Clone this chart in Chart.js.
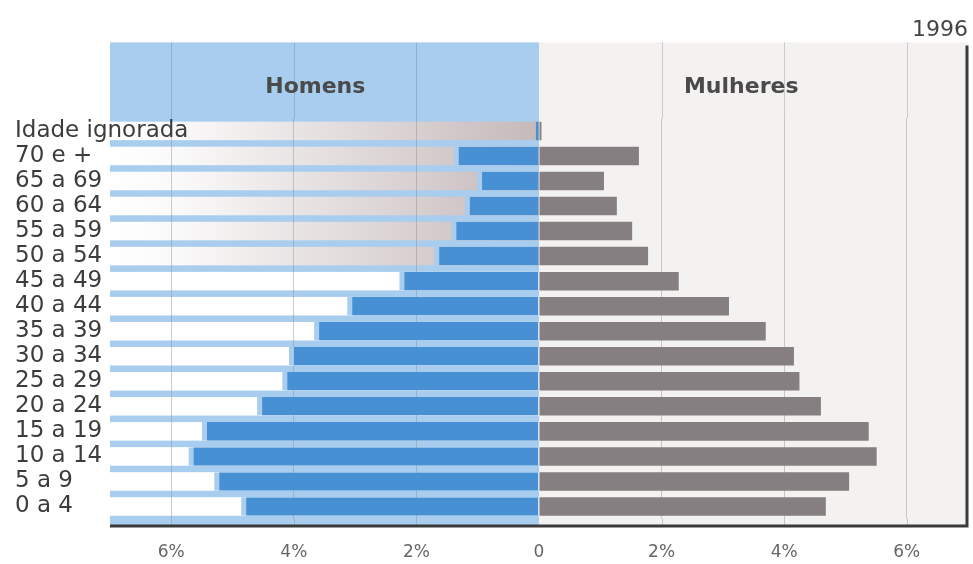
<!DOCTYPE html>
<html>
<head>
<meta charset="utf-8">
<script src="https://cdn.jsdelivr.net/npm/chart.js@4"></script>
<style>
  body { margin: 0; background: #fff; }
  #wrap { width: 973px; height: 564px; }
</style>
</head>
<body>
<div id="wrap"><canvas id="piramide"></canvas></div>
<script>
// Faixas etárias, de cima para baixo
const faixas = ['Idade ignorada', '70 e +', '65 a 69', '60 a 64', '55 a 59', '50 a 54',
  '45 a 49', '40 a 44', '35 a 39', '30 a 34', '25 a 29', '20 a 24',
  '15 a 19', '10 a 14', '5 a 9', '0 a 4'];

// % da população
const homens = [0.05, 1.39, 1.01, 1.21, 1.43, 1.71, 2.28, 3.13, 3.67, 4.08, 4.19, 4.6, 5.5, 5.72, 5.3, 4.86];
const mulheres = [0.04, 1.63, 1.06, 1.27, 1.52, 1.78, 2.28, 3.1, 3.7, 4.16, 4.25, 4.6, 5.38, 5.51, 5.06, 4.68];

const ticksX = [-6, -4, -2, 0, 2, 4, 6];
const ano = '1996';
const titulos = ['Homens', 'Mulheres'];

const azulClaro = '#a8cdee';
const fonte = 'DejaVu Sans';
const folga = 7; // espaço entre a última faixa e o eixo

// fundo: cabeçalho, painéis e faixas das linhas
const fundo = {
  id: 'fundo',
  beforeDraw(chart) {
    const { ctx, chartArea: a, scales: { x, y } } = chart;
    const x0 = x.getPixelForValue(0);
    const topo = a.top - 76;
    const base = a.bottom + folga;
    ctx.save();
    ctx.fillStyle = azulClaro;
    ctx.fillRect(a.left, topo, x0 - a.left, base - topo);
    ctx.fillStyle = '#f3f2f0';
    ctx.fillRect(x0, topo, a.right - x0, base - topo);

    const passo = y.getPixelForValue(1) - y.getPixelForValue(0);
    const h = passo * 0.74;
    const grad = ctx.createLinearGradient(a.left, 0, x0, 0);
    grad.addColorStop(0, '#ffffff');
    grad.addColorStop(0.15, '#fbfafa');
    grad.addColorStop(1, '#c6b9ba');
    faixas.forEach((f, i) => {
      const cy = y.getPixelForValue(i);
      ctx.fillStyle = i <= 5 ? grad : '#ffffff';
      ctx.fillRect(a.left, cy - h / 2, x0 - a.left, h);
    });

    // linhas de grade no cabeçalho e abaixo da última faixa
    ctx.lineWidth = 1;
    ticksX.filter(v => v !== 0).forEach(v => {
      const px = Math.round(x.getPixelForValue(v)) + 0.5;
      ctx.strokeStyle = 'rgba(110,110,120,0.3)';
      ctx.beginPath();
      ctx.moveTo(px, topo);
      ctx.lineTo(px, a.top);
      ctx.stroke();
      ctx.strokeStyle = 'rgba(150,140,140,0.45)';
      ctx.beginPath();
      ctx.moveTo(px, a.bottom);
      ctx.lineTo(px, base);
      ctx.stroke();
    });

    ctx.fillStyle = '#4a4a4a';
    ctx.font = 'bold 22px "' + fonte + '"';
    ctx.textAlign = 'center';
    ctx.textBaseline = 'middle';
    ctx.fillText(titulos[0], x.getPixelForValue(-3.65), a.top - 31);
    ctx.fillText(titulos[1], x.getPixelForValue(3.3), a.top - 31);
    ctx.restore();
  },
  afterDraw(chart) {
    const { ctx, chartArea: a } = chart;
    const base = a.bottom + folga;
    ctx.save();
    ctx.strokeStyle = '#3a3a3a';
    ctx.lineWidth = 3;
    ctx.beginPath();
    ctx.moveTo(a.left, base);
    ctx.lineTo(a.right - 1, base);
    ctx.lineTo(a.right - 1, a.top - 73);
    ctx.stroke();
    ctx.restore();
  }
};

new Chart(document.getElementById('piramide'), {
  type: 'bar',
  data: {
    labels: faixas,
    datasets: [{
      label: 'Homens',
      data: homens.map(v => -v),
      backgroundColor: '#4690d3',
      borderColor: azulClaro,
      borderWidth: ctx => ({ left: ctx.raw < -0.2 ? 5 : 0, top: 0, right: 0, bottom: 0 }),
      borderSkipped: false,
      barPercentage: 0.74,
      categoryPercentage: 1,
      grouped: false
    }, {
      label: 'Mulheres',
      data: mulheres,
      backgroundColor: '#867f81',
      borderWidth: 0,
      barPercentage: 0.74,
      categoryPercentage: 1,
      grouped: false
    }]
  },
  options: {
    indexAxis: 'y',
    responsive: true,
    maintainAspectRatio: false,
    animation: false,
    layout: { padding: { left: 110, right: 5, top: 0, bottom: 0 } },
    plugins: {
      legend: { display: false },
      tooltip: { enabled: false },
      title: {
        display: true,
        text: ano,
        align: 'end',
        color: '#444',
        font: { family: fonte, size: 22, weight: 'normal' },
        padding: { top: 17, bottom: 75 }
      }
    },
    scales: {
      x: {
        min: -7,
        max: 7,
        afterBuildTicks: s => { s.ticks = ticksX.map(v => ({ value: v })); },
        afterFit: s => { s.height = 45; },
        grid: {
          color: c => c.tick && c.tick.value === 0 ? 'rgba(0,0,0,0)' : 'rgba(150,140,140,0.45)',
          drawTicks: false
        },
        border: { display: false },
        ticks: {
          padding: 23,
          maxRotation: 0,
          color: '#666',
          font: { family: fonte, size: 17 },
          callback: v => v === 0 ? '0' : Math.abs(v) + '%'
        }
      },
      y: {
        afterFit: s => { s.width = 0; },
        grid: { display: false, drawTicks: false },
        border: { display: false },
        ticks: {
          autoSkip: false,
          mirror: true,
          padding: -95,
          z: 1,
          color: '#3c3c3c',
          font: { family: fonte, size: 23, lineHeight: 1 }
        }
      }
    }
  },
  plugins: [fundo]
});
</script>
</body>
</html>
